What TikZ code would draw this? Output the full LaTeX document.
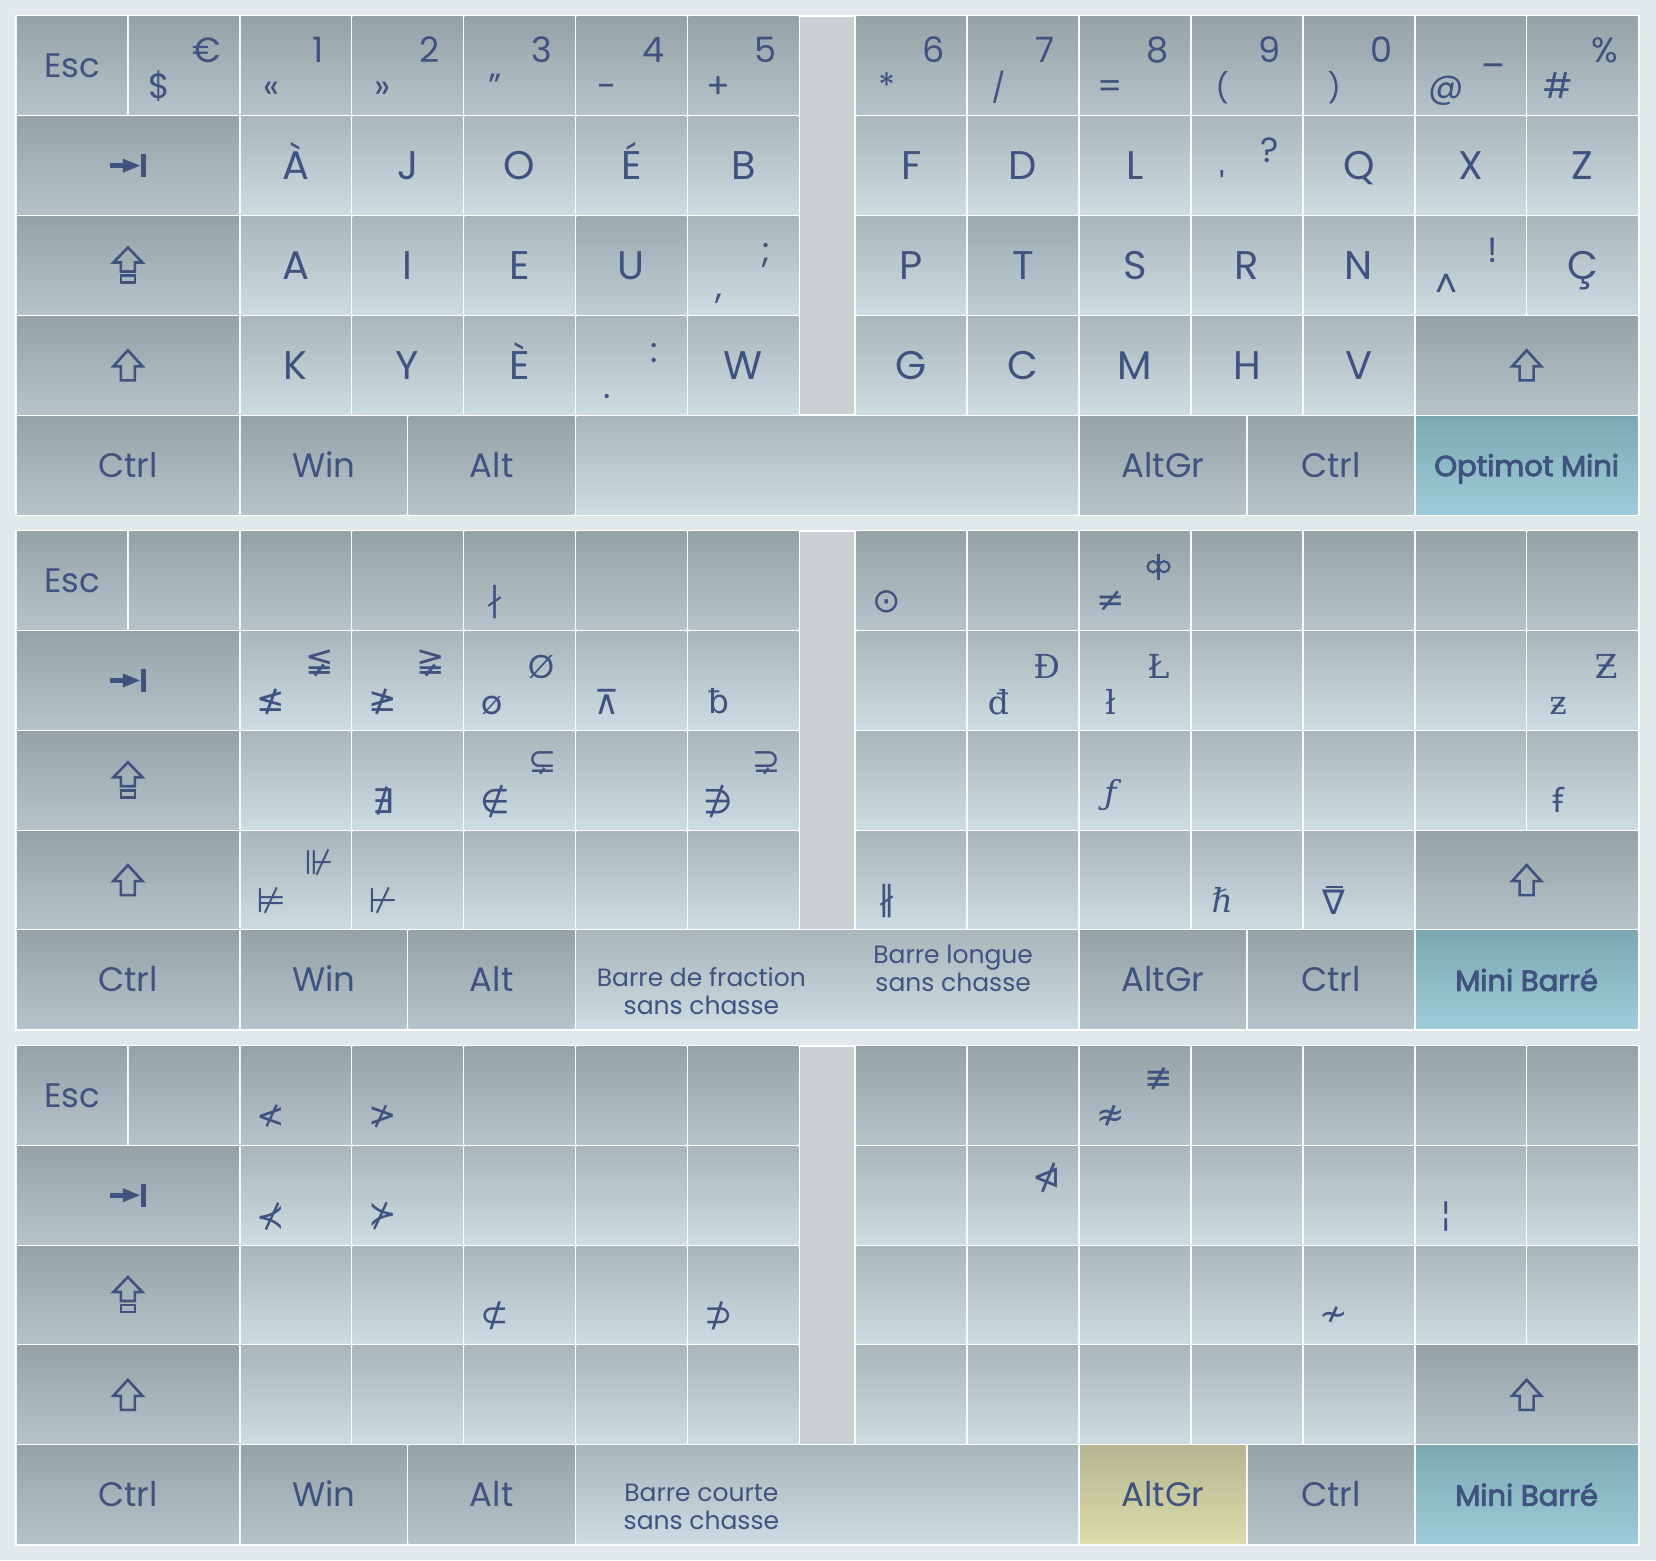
\documentclass[tikz,border=0pt]{standalone}
\usepackage{fontspec}
\setmainfont{Poppins}
\newfontfamily\symsans{DejaVu Sans}
\newfontfamily\symserif{DejaVu Serif}
\newfontfamily\notosans{Noto Sans}
\newfontfamily\modefont[FakeBold=3]{Poppins}
\usetikzlibrary{calc}

% colours picked from the keyboard pictures
\definecolor{bgpale}{RGB}{226,233,235}
\definecolor{modtop}{RGB}{149,162,168}
\definecolor{modbot}{RGB}{182,195,202}
\definecolor{lettop}{RGB}{169,182,188}
\definecolor{letbot}{RGB}{205,219,226}
\definecolor{hometop}{RGB}{156,170,177}
\definecolor{homebot}{RGB}{190,204,211}
\definecolor{gapgrey}{RGB}{203,208,210}
\definecolor{tealtop}{RGB}{124,168,177}
\definecolor{tealbot}{RGB}{157,205,217}
\definecolor{goldtop}{RGB}{180,182,145}
\definecolor{goldbot}{RGB}{219,220,171}
\definecolor{ink}{RGB}{64,82,128}

\tikzset{
  modkey/.style={top color=modtop, bottom color=modbot},
  letkey/.style={top color=lettop, bottom color=letbot},
  homekey/.style={top color=hometop, bottom color=homebot},
  gapkey/.style={fill=gapgrey},
  modekey/.style={top color=tealtop, bottom color=tealbot},
  litkey/.style={top color=goldtop, bottom color=goldbot},
  legend/.style={text=ink, inner sep=0pt},
  bigleg/.style={legend, font=\fontsize{40}{40}\selectfont, text height=28pt, text depth=0pt},
  smallleg/.style={legend, anchor=base, font=\fontsize{35}{35}\selectfont},
  modleg/.style={legend, font=\fontsize{34}{34}\selectfont, text height=24pt, text depth=0pt},
  modeleg/.style={legend, font=\fontsize{29}{29}\modefont, text height=22pt, text depth=0pt},
  spaceleg/.style={legend, align=center, font=\fontsize{25}{28}\selectfont},
  symleg/.style={legend, font=\fontsize{34}{34}\symsans},
  serleg/.style={legend, anchor=base, font=\fontsize{33}{33}\symserif},
  icon/.style={draw=ink, line width=2.6pt, line join=miter},
  pics/tabkey/.style={code={
    \fill[ink] (-18pt,-2.3pt) rectangle (-4pt,2.3pt);
    \fill[ink] (-5pt,7pt) -- (12pt,0pt) -- (-5pt,-7pt) -- cycle;
    \fill[ink] (13pt,-11.5pt) rectangle (18pt,11.5pt);}},
  pics/shiftkey/.style={code={
    \draw[icon] (0,15pt) -- (14.5pt,-1pt) -- (7pt,-1pt) -- (7pt,-15pt)
      -- (-7pt,-15pt) -- (-7pt,-1pt) -- (-14.5pt,-1pt) -- cycle;}},
  pics/capskey/.style={code={
    \draw[icon] (0,18pt) -- (14.5pt,3pt) -- (7pt,3pt) -- (7pt,-6pt)
      -- (-7pt,-6pt) -- (-7pt,3pt) -- (-14.5pt,3pt) -- cycle;
    \draw[icon] (-7pt,-10pt) rectangle (7pt,-17pt);}}
}

% one key: column, row, width (in key units)
\newcommand\keycap[4][letkey]{\path[#1] ([shift={(1pt,-1pt)}]#2,-#3) rectangle ([shift={(-1pt,1pt)}]#2+#4,-#3-1)}

% one legend: style, column, row, place inside the key, text
\newcount\legn
\newcommand\leg[6][legend]{\global\advance\legn by 1
  \node[#1] (leg\the\legn) at (#2+#4,-#3-#5) {#6};}
\newcommand\duo[4]{\leg[smallleg]{#1}{#2}{0.28}{0.83}{#3}\leg[smallleg]{#1}{#2}{0.70}{0.47}{#4}}
\newcommand\symlo[3]{\leg[symleg]{#1}{#2}{0.28}{0.71}{#3}}
\newcommand\symup[3]{\leg[symleg]{#1}{#2}{0.71}{0.33}{#3}}
\newcommand\serlo[3]{\leg[serleg]{#1}{#2}{0.28}{0.845}{#3}}
\newcommand\serup[3]{\leg[serleg]{#1}{#2}{0.71}{0.485}{#3}}
\newcommand\smallpar[1]{{\fontsize{29}{29}\selectfont #1}}

\begin{document}
\begin{tikzpicture}[x=111.9pt, y=99.8pt]

% Draw background
\fill[bgpale] (-16pt,16pt) rectangle (1640pt,-1544pt);
\useasboundingbox (-16pt,16pt) rectangle (1640pt,-1544pt);

% Draw the three keyboards with their common keys
\foreach \k/\home/\altgr/\mode in {0/homekey/modkey/Optimot Mini, 1/letkey/modkey/Mini Barré, 2/letkey/litkey/Mini Barré} {
  \begin{scope}[yshift=-\k*514.75pt]
    % white plate seen as the seams between keys
    \fill[white] (-1pt,1pt) rectangle ([shift={(1pt,-1pt)}]14.5,-5);
    % number row
    \foreach \c in {0,...,6} {\keycap[modkey]{\c}{0}{1};}
    \foreach \c in {7.5,8.5,...,13.5} {\keycap[modkey]{\c}{0}{1};}
    % letter rows
    \foreach \r in {1,2,3} {
      \foreach \c in {2,3,4,6} {\keycap{\c}{\r}{1};}
      \foreach \c in {7.5,9.5,10.5,11.5} {\keycap{\c}{\r}{1};}
    }
    \foreach \r in {1,3} {\keycap{5}{\r}{1}; \keycap{8.5}{\r}{1};}
    \keycap[\home]{5}{2}{1};
    \keycap[\home]{8.5}{2}{1};
    \foreach \r in {1,2} {\keycap{12.5}{\r}{1}; \keycap{13.5}{\r}{1};}
    % strip between both halves
    \path[gapkey] ([shift={(1pt,-1pt)}]7,0) rectangle ([shift={(-1pt,1pt)}]7.5,-4);
    % modifiers
    \keycap[modkey]{0}{1}{2};
    \keycap[modkey]{0}{2}{2};
    \keycap[modkey]{0}{3}{2};
    \keycap[modkey]{12.5}{3}{2};
    % bottom row
    \keycap[modkey]{0}{4}{2};
    \keycap[modkey]{2}{4}{1.5};
    \keycap[modkey]{3.5}{4}{1.5};
    \keycap{5}{4}{4.5};
    \keycap[\altgr]{9.5}{4}{1.5};
    \keycap[modkey]{11}{4}{1.5};
    \keycap[modekey]{12.5}{4}{2};
    % icons and modifier names
    \pic at (1,-1.5) {tabkey};
    \pic at (1,-2.5) {capskey};
    \pic at (1,-3.5) {shiftkey};
    \pic at (13.5,-3.5) {shiftkey};
    \node[modleg] (esc\k) at (0.5,-0.5) {Esc};
    \node[modleg] (ctrlL\k) at (1,-4.5) {Ctrl};
    \node[modleg] (win\k) at (2.75,-4.5) {Win};
    \node[modleg] (alt\k) at (4.25,-4.5) {Alt};
    \node[modleg] (altgr\k) at (10.25,-4.5) {AltGr};
    \node[modleg] (ctrlR\k) at (11.75,-4.5) {Ctrl};
    \node[modeleg] (mode\k) at (13.5,-4.5) {\mode};
  \end{scope}
}

% Optimot Mini legends
\duo{1}{0}{\$}{€}
\duo{2}{0}{«}{1}
\duo{3}{0}{»}{2}
\duo{4}{0}{"}{3}
\duo{5}{0}{-}{4}
\duo{6}{0}{+}{5}
\duo{7.5}{0}{*}{6}
\duo{8.5}{0}{\smallpar{/}}{7}
\duo{9.5}{0}{=}{8}
\duo{10.5}{0}{\smallpar{(}}{9}
\duo{11.5}{0}{\smallpar{)}}{0}
\duo{12.5}{0}{@}{\_}
\duo{13.5}{0}{\#}{\%}
\foreach \c/\r/\t in {2/1/À, 3/1/J, 4/1/O, 5/1/É, 6/1/B, 7.5/1/F, 8.5/1/D, 9.5/1/L,
  11.5/1/Q, 12.5/1/X, 13.5/1/Z, 2/2/A, 3/2/I, 4/2/E, 5/2/U, 7.5/2/P, 8.5/2/T, 9.5/2/S,
  10.5/2/R, 11.5/2/N, 13.5/2/Ç, 2/3/K, 3/3/Y, 4/3/È, 6/3/W, 7.5/3/G, 8.5/3/C, 9.5/3/M,
  10.5/3/H, 11.5/3/V}
  \node[bigleg] (l-\c-\r) at (\c+0.5,-\r-0.5) {\t};
\duo{10.5}{1}{\textquotesingle}{?}
\duo{6}{2}{,}{;}
\duo{12.5}{2}{\textasciicircum}{!}
\duo{5}{3}{.}{:}

% Mini Barre legends
\begin{scope}[yshift=-514.75pt]
  \symlo{4}{0}{∤}
  \symlo{7.5}{0}{⊙}
  \symlo{9.5}{0}{≠}
  % infinity crossed by a bar, no font here has it
  \coordinate (infbar) at (9.5+0.71,-0.36);
  \draw[ink, line width=2.2pt] ([xshift=-5.5pt]infbar) circle (5.5pt) ([xshift=5.5pt]infbar) circle (5.5pt);
  \draw[ink, line width=2.2pt] ([yshift=13pt]infbar) -- ([yshift=-13pt]infbar);
  \symlo{2}{1}{≰}
  \symup{2}{1}{≨}
  \symlo{3}{1}{≱}
  \symup{3}{1}{≩}
  \leg[smallleg, font=\fontsize{33}{33}\selectfont]{4}{1}{0.25}{0.845}{ø}
  \leg[smallleg, font=\fontsize{33}{33}\selectfont]{4}{1}{0.70}{0.485}{Ø}
  \symlo{5}{1}{⊼}
  \leg[serleg, font=\fontsize{33}{33}\symsans]{6}{1}{0.28}{0.83}{ƀ}
  \serlo{8.5}{1}{đ}
  \serup{8.5}{1}{Đ}
  \serlo{9.5}{1}{ł}
  \serup{9.5}{1}{Ł}
  \serlo{13.5}{1}{ƶ}
  \serup{13.5}{1}{Ƶ}
  \symlo{3}{2}{∄}
  \symlo{4}{2}{∉}
  \symup{4}{2}{⊊}
  \symlo{6}{2}{∌}
  \symup{6}{2}{⊋}
  \leg[serleg, anchor=center, font=\fontsize{33}{33}\symserif\itshape]{9.5}{2}{0.28}{0.65}{ƒ}
  \leg[serleg, anchor=center, font=\fontsize{33}{33}\notosans]{13.5}{2}{0.28}{0.70}{ꞙ}
  \symlo{2}{3}{⊭}
  \symup{2}{3}{⊮}
  \symlo{3}{3}{⊬}
  \symlo{7.5}{3}{∦}
  \leg[serleg, anchor=center, font=\fontsize{33}{33}\symserif\itshape]{10.5}{3}{0.28}{0.70}{ℏ}
  \node[symleg] (nabla) at (11.5+0.28,-3-0.72) {∇};
  \draw[ink, line width=2pt] ([xshift=3pt,yshift=3pt]nabla.north west) -- ([xshift=-3pt,yshift=3pt]nabla.north east);
  \node[spaceleg] (fraction) at (6.125,-4.615) {Barre de fraction\\sans chasse};
  \node[spaceleg] (longue) at (8.375,-4.38) {Barre longue\\sans chasse};
\end{scope}

% Mini Barre legends with AltGr
\begin{scope}[yshift=-1029.5pt]
  \symlo{2}{0}{≮}
  \symlo{3}{0}{≯}
  \symlo{9.5}{0}{≉}
  \symup{9.5}{0}{≢}
  \symlo{2}{1}{⊀}
  \symlo{3}{1}{⊁}
  \symup{8.5}{1}{⋪}
  \symlo{12.5}{1}{¦}
  \symlo{4}{2}{⊄}
  \symlo{6}{2}{⊅}
  \symlo{11.5}{2}{≁}
  \node[spaceleg] (courte) at (6.125,-4.62) {Barre courte\\sans chasse};
\end{scope}

\end{tikzpicture}
\end{document}
